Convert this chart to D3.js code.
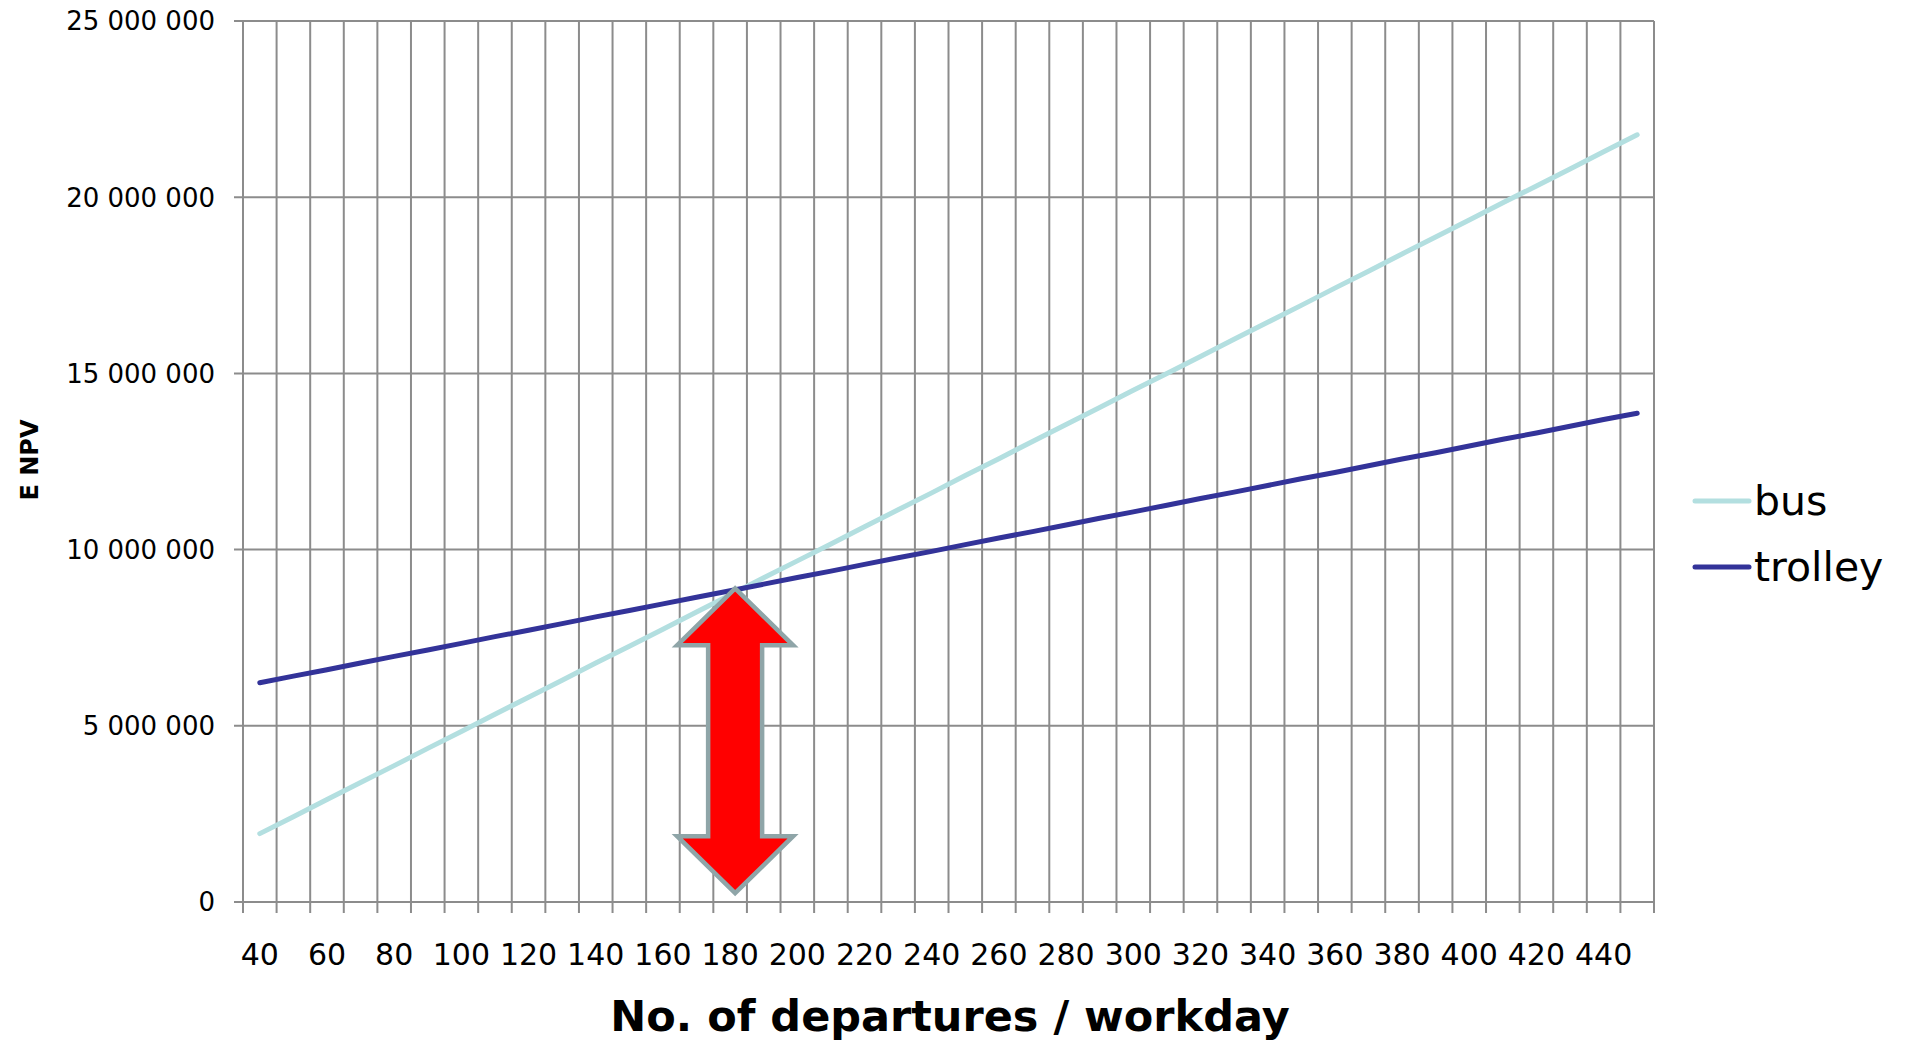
<!DOCTYPE html>
<html>
<head>
<meta charset="utf-8">
<script src="https://cdn.jsdelivr.net/npm/d3@7"></script>
<style>
    body { margin: 0; background: #fff; }
    text { font-family: "DejaVu Sans", Verdana, sans-serif; fill: #000; }
</style>
</head>
<body>
<div id="root"></div>
<script>
var departures = [40, 50, 60, 70, 80, 90, 100, 110, 120, 130, 140, 150, 160, 170, 180, 190, 200,
    210, 220, 230, 240, 250, 260, 270, 280, 290, 300, 310, 320, 330, 340, 350, 360, 370, 380,
    390, 400, 410, 420, 430, 440, 450];

var busNPV = [1940000, 2420000, 2910000, 3390000, 3870000, 4360000, 4840000, 5330000, 5810000,
    6290000, 6780000, 7260000, 7740000, 8230000, 8710000, 9200000, 9680000, 10160000, 10650000,
    11130000, 11610000, 12100000, 12580000, 13070000, 13550000, 14030000, 14520000, 15000000,
    15480000, 15970000, 16450000, 16930000, 17420000, 17900000, 18390000, 18870000, 19350000,
    19840000, 20320000, 20800000, 21290000, 21770000];

var trolleyNPV = [6220000, 6410000, 6590000, 6780000, 6970000, 7150000, 7340000, 7530000, 7710000,
    7900000, 8090000, 8270000, 8460000, 8650000, 8830000, 9020000, 9210000, 9390000, 9580000,
    9770000, 9950000, 10140000, 10330000, 10510000, 10700000, 10890000, 11070000, 11260000,
    11450000, 11630000, 11820000, 12010000, 12190000, 12380000, 12570000, 12750000, 12940000,
    13130000, 13310000, 13500000, 13690000, 13870000];

var xTickLabels = [40, 60, 80, 100, 120, 140, 160, 180, 200, 220, 240, 260, 280, 300, 320, 340,
    360, 380, 400, 420, 440];
var yTicks = [0, 5000000, 10000000, 15000000, 20000000, 25000000];

// arrow annotation: departures value and the NPV span it covers
var arrowAt = 180;
var arrowSpan = [250000, 8900000];

var series = [
    {name: "bus", values: busNPV, color: "#b3dfe0"},
    {name: "trolley", values: trolleyNPV, color: "#333399"}
];

var width = 1905,
    height = 1043;
var plot = {left: 243, right: 1654, top: 21, bottom: 902};
var gridColor = "#8c8c8c";

var x = d3.scaleBand()
    .domain(departures)
    .range([plot.left, plot.right])
    .paddingInner(0)
    .paddingOuter(0);

var y = d3.scaleLinear()
    .domain([0, 25000000])
    .range([plot.bottom, plot.top]);

var fmt = d3.formatLocale({decimal: ".", thousands: " ", grouping: [3], currency: ["", ""]}).format(",");

var svg = d3.select("#root")
    .append("svg")
    .attr("width", width)
    .attr("height", height);

// vertical gridlines at category boundaries (with ticks below the axis)
var bounds = departures.map(function (d) { return x(d); }).concat([plot.right]);
svg.append("g")
    .selectAll("line")
    .data(bounds)
    .enter()
    .append("line")
    .attr("x1", function (d) { return d; })
    .attr("x2", function (d) { return d; })
    .attr("y1", plot.top)
    .attr("y2", plot.bottom + 11)
    .attr("stroke", gridColor)
    .attr("stroke-width", 2);

// horizontal gridlines
svg.append("g")
    .selectAll("line")
    .data(yTicks)
    .enter()
    .append("line")
    .attr("x1", plot.left - 9)
    .attr("x2", plot.right)
    .attr("y1", function (d) { return y(d); })
    .attr("y2", function (d) { return y(d); })
    .attr("stroke", gridColor)
    .attr("stroke-width", 2);

// y labels
svg.append("g")
    .selectAll("text")
    .data(yTicks)
    .enter()
    .append("text")
    .attr("x", 215)
    .attr("y", function (d) { return y(d); })
    .attr("dy", "0.36em")
    .attr("text-anchor", "end")
    .style("font-size", "26px")
    .text(function (d) { return fmt(d); });

// x labels
svg.append("g")
    .selectAll("text")
    .data(xTickLabels)
    .enter()
    .append("text")
    .attr("x", function (d) { return x(d) + x.bandwidth() / 2; })
    .attr("y", 965)
    .attr("text-anchor", "middle")
    .style("font-size", "30px")
    .text(function (d) { return d; });

// axis titles
svg.append("text")
    .attr("x", 950)
    .attr("y", 1031)
    .attr("text-anchor", "middle")
    .style("font-size", "43px")
    .style("font-weight", "bold")
    .text("No. of departures / workday");

svg.append("text")
    .attr("transform", "translate(38,460) rotate(-90)")
    .attr("text-anchor", "middle")
    .style("font-size", "24px")
    .style("font-weight", "bold")
    .text("E NPV");

// series lines
var line = d3.line()
    .x(function (d, i) { return x(departures[i]) + x.bandwidth() / 2; })
    .y(function (d) { return y(d); });

svg.append("g")
    .selectAll("path")
    .data(series)
    .enter()
    .append("path")
    .attr("d", function (s) { return line(s.values); })
    .attr("fill", "none")
    .attr("stroke", function (s) { return s.color; })
    .attr("stroke-width", 5)
    .attr("stroke-linecap", "round")
    .attr("stroke-linejoin", "round");

// double arrow
var cx = x(arrowAt) + x.bandwidth() / 2 + 5,
    yt = y(arrowSpan[1]),
    yb = y(arrowSpan[0]),
    hw = 58, sw = 27, hh = 57;
var arrowPts = [
    [cx, yt], [cx + hw, yt + hh], [cx + sw, yt + hh], [cx + sw, yb - hh], [cx + hw, yb - hh],
    [cx, yb], [cx - hw, yb - hh], [cx - sw, yb - hh], [cx - sw, yt + hh], [cx - hw, yt + hh]
];
svg.append("path")
    .attr("d", "M" + arrowPts.join("L") + "Z")
    .attr("fill", "#ff0000")
    .attr("stroke", "#8fa5a8")
    .attr("stroke-width", 4.5)
    .attr("stroke-linejoin", "miter");

// legend
var legend = svg.append("g")
    .selectAll("g")
    .data(series)
    .enter()
    .append("g")
    .attr("transform", function (d, i) { return "translate(1695," + (501 + i * 66) + ")"; });

legend.append("line")
    .attr("x1", 0)
    .attr("x2", 54)
    .attr("stroke", function (d) { return d.color; })
    .attr("stroke-width", 5)
    .attr("stroke-linecap", "round");

legend.append("text")
    .attr("x", 59)
    .attr("y", 14)
    .style("font-size", "41px")
    .text(function (d) { return d.name; });
</script>
</body>
</html>
